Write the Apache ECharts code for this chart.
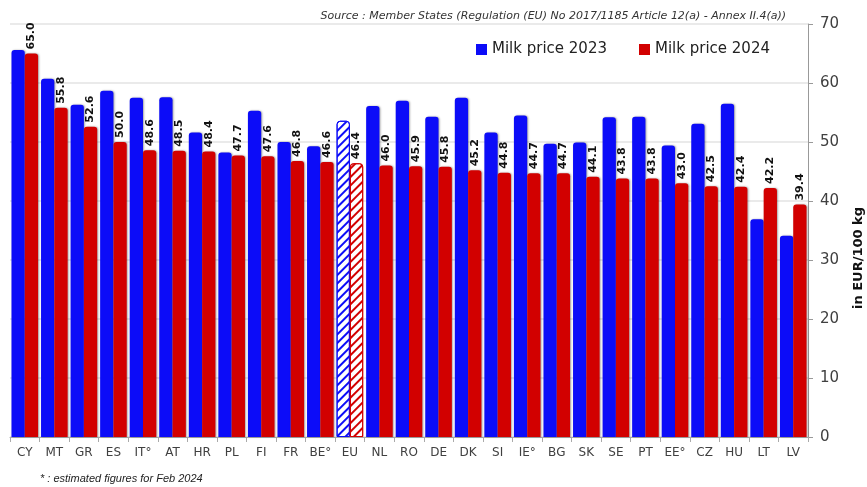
<!DOCTYPE html>
<html>
<head>
<meta charset="utf-8">
<script src="https://cdn.jsdelivr.net/npm/echarts@6/dist/echarts.min.js"></script>
<style>
  html, body { margin: 0; padding: 0; background: #fff; }
  #chart { width: 867px; height: 487px; }
</style>
</head>
<body>
<div id="chart"></div>
<script>
  const categories = ['CY', 'MT', 'GR', 'ES', 'IT°', 'AT', 'HR', 'PL', 'FI', 'FR', 'BE°', 'EU', 'NL', 'RO',
    'DE', 'DK', 'SI', 'IE°', 'BG', 'SK', 'SE', 'PT', 'EE°', 'CZ', 'HU', 'LT', 'LV'];
  const price2023 = [65.6, 60.7, 56.3, 58.7, 57.5, 57.6, 51.6, 48.2, 55.3, 50.0, 49.3, 53.6, 56.1, 57.0,
    54.3, 57.5, 51.6, 54.5, 49.7, 49.9, 54.2, 54.3, 49.4, 53.1, 56.5, 36.9, 34.1];
  const price2024 = [65.0, 55.8, 52.6, 50.0, 48.6, 48.5, 48.4, 47.7, 47.6, 46.8, 46.6, 46.4, 46.0, 45.9,
    45.8, 45.2, 44.8, 44.7, 44.7, 44.1, 43.8, 43.8, 43.0, 42.5, 42.4, 42.2, 39.4];
  const yTicks = [0, 10, 20, 30, 40, 50, 60, 70];

  const BLUE = '#0c0cf8';
  const RED = '#d20000';
  const FONT = 'DejaVu Sans';

  // EU average is drawn hatched
  const hatched = (color) => ({
    color: '#fff',
    borderColor: color,
    borderWidth: 1,
    shadowBlur: 0,
    shadowOffsetX: 0,
    shadowColor: 'transparent',
    decal: {
      symbol: 'rect',
      symbolSize: 1,
      dashArrayX: [1, 0],
      dashArrayY: [2, 4],
      rotation: -Math.PI / 4,
      color: color
    }
  });

  const toItems = (values, color) => values.map((v, i) => {
    if (categories[i] === 'EU') {
      return { value: v, itemStyle: hatched(color) };
    }
    return v;
  });

  const barStyle = (color) => ({
    color: color,
    borderRadius: [3, 3, 0, 0],
    shadowColor: 'rgba(0,0,0,0.35)',
    shadowBlur: 2,
    shadowOffsetX: 1
  });

  const myChart = echarts.init(document.getElementById('chart'));
  const option = {
    animation: false,
    title: {
      text: 'Source : Member States (Regulation (EU) No 2017/1185 Article 12(a) - Annex II.4(a))',
      right: 76,
      top: 6,
      textStyle: { fontFamily: FONT, fontSize: 11, fontStyle: 'italic', fontWeight: 'normal', color: '#333' }
    },
    legend: {
      right: 92,
      top: 37,
      icon: 'rect',
      itemWidth: 11,
      itemHeight: 11,
      itemGap: 32,
      textStyle: { fontFamily: FONT, fontSize: 15, color: '#222' },
      data: ['Milk price 2023', 'Milk price 2024']
    },
    grid: { left: 10, right: 59, top: 24, bottom: 50 },
    xAxis: {
      type: 'category',
      data: categories,
      axisLine: { lineStyle: { color: '#aaa' } },
      axisTick: { show: true, lineStyle: { color: '#aaa' } },
      axisLabel: { fontFamily: FONT, fontSize: 12, color: '#404040', margin: 10, interval: 0 }
    },
    yAxis: {
      type: 'value',
      position: 'right',
      min: yTicks[0],
      max: yTicks[yTicks.length - 1],
      interval: 10,
      axisLine: { show: true, lineStyle: { color: '#999' } },
      axisTick: { show: true, length: 5, lineStyle: { color: '#999' } },
      axisLabel: { fontFamily: FONT, fontSize: 15, color: '#404040', margin: 12 },
      splitLine: { lineStyle: { color: '#e3e3e3', width: 1.5 } }
    },
    graphic: [
      {
        type: 'text',
        x: 859,
        y: 258,
        rotation: Math.PI / 2,
        style: {
          text: 'in EUR/100 kg',
          font: 'bold 13px "DejaVu Sans"',
          fill: '#111',
          textAlign: 'center',
          textVerticalAlign: 'middle'
        }
      },
      {
        type: 'text',
        left: 40,
        top: 473,
        style: {
          text: '* : estimated figures for Feb 2024',
          font: 'italic 11px "Liberation Sans"',
          fill: '#222'
        }
      }
    ],
    series: [
      {
        name: 'Milk price 2023',
        type: 'bar',
        barGap: '0%',
        barCategoryGap: '10%',
        itemStyle: barStyle(BLUE),
        data: toItems(price2023, BLUE)
      },
      {
        name: 'Milk price 2024',
        type: 'bar',
        itemStyle: barStyle(RED),
        label: {
          show: true,
          position: 'top',
          rotate: 90,
          align: 'left',
          verticalAlign: 'middle',
          distance: 4,
          fontFamily: FONT,
          fontSize: 11,
          fontWeight: 'bold',
          color: '#111',
          formatter: (p) => p.value.toFixed(1)
        },
        data: toItems(price2024, RED)
      }
    ]
  };
  option && myChart.setOption(option);
</script>
</body>
</html>
